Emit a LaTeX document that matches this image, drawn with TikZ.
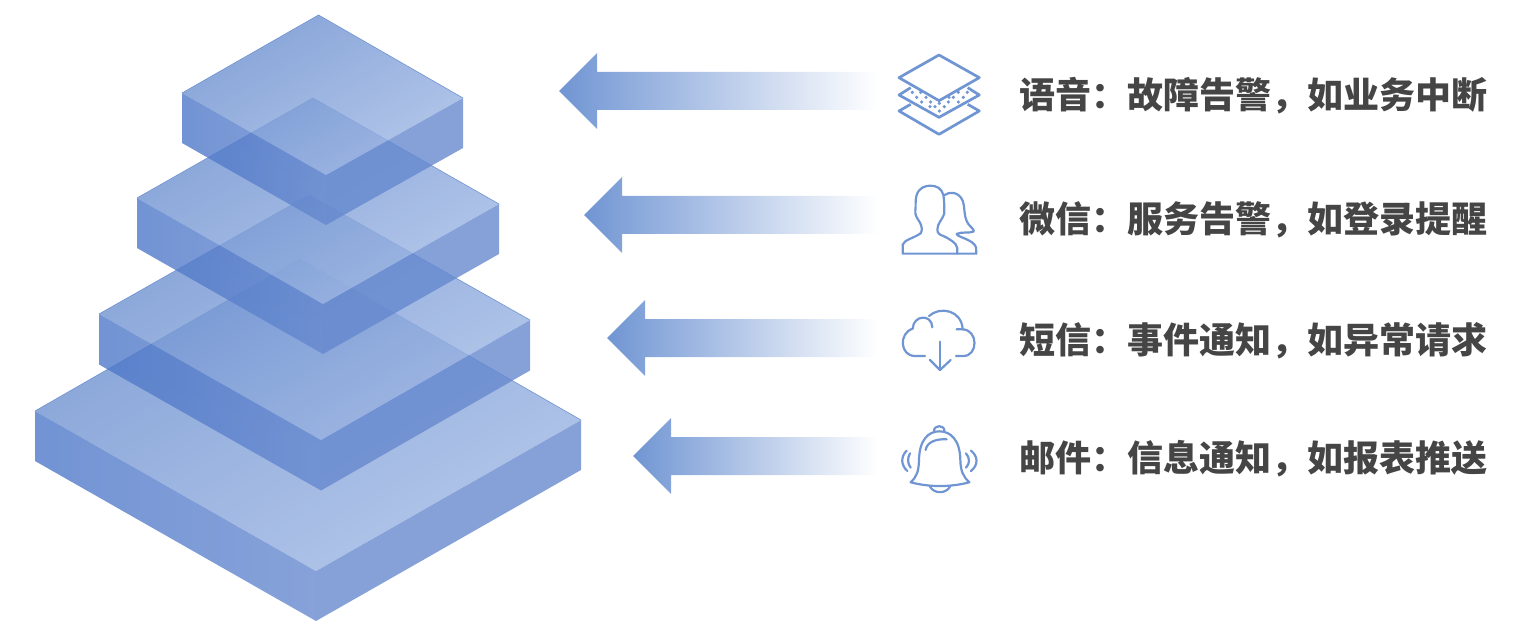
\documentclass[tikz,border=0pt]{standalone}
\usepackage{fontspec}
\newfontfamily\cjk{Noto Sans CJK SC}
\definecolor{ink}{HTML}{454545}
\definecolor{icon}{HTML}{7095D3}
\definecolor{edgeblue}{RGB}{112,146,210}
\definecolor{topA}{RGB}{104,141,206}
\definecolor{topB}{RGB}{160,184,228}
\definecolor{leftA}{RGB}{76,118,200}
\definecolor{leftB}{RGB}{102,137,207}
\definecolor{rightC}{RGB}{101,136,206}
\tikzset{
  x=1pt,y=-1pt,
  topface/.style={top color=topA,bottom color=topB,shading angle=30,fill opacity=.8,draw=none},
  leftface/.style={left color=leftA,right color=leftB,fill opacity=.79,draw=none},
  rightface/.style={fill=rightC,fill opacity=.79},
  edge/.style={draw=edgeblue,line width=.6pt},
  arrowshape/.style={left color=icon,right color=white,draw=none},
  label/.style={anchor=west,inner sep=0,text=ink,font=\fontsize{36}{40}\selectfont\cjk\bfseries},
  iconline/.style={draw=icon,line width=2.2pt,line cap=round,line join=round},
  layerline/.style={iconline,line width=2.7pt,line cap=butt},
}
\newcommand{\slabshape}[9]{%
  % left x,y ; top x,y ; right x,y ; front x,y ; height
  \shade[leftface] (#1,#2) -- (#7,#8) -- (#7,#8+#9) -- (#1,#2+#9) -- cycle;
  \fill[rightface] (#5,#6) -- (#7,#8) -- (#7,#8+#9) -- (#5,#6+#9) -- cycle;
  \shade[topface] (#1,#2) -- (#3,#4) -- (#5,#6) -- (#7,#8) -- cycle;
  \draw[edge] (#1,#2) -- (#3,#4) -- (#5,#6);
}
\begin{document}
\begin{tikzpicture}
\useasboundingbox (0,0) rectangle (1530,628);
\slabshape{35}{411}{300}{259}{581}{420}{316}{571}{50}
\slabshape{99}{314}{309}{195}{530}{320}{321}{440}{50.5}
\slabshape{137}{198}{313}{98}{499}{204}{323}{304}{50}
\slabshape{182}{93}{318.5}{15}{463}{98}{326}{175}{50}

\shade[arrowshape] (559,91) -- (597,53) -- (597,72) -- (878,72) -- (878,110) -- (597,110) -- (597,129) -- cycle;
\shade[arrowshape] (584,215) -- (622,177) -- (622,196) -- (878,196) -- (878,234) -- (622,234) -- (622,253) -- cycle;
\shade[arrowshape] (607,338) -- (645,300) -- (645,319) -- (878,319) -- (878,357) -- (645,357) -- (645,376) -- cycle;
\shade[arrowshape] (633,456) -- (671,418) -- (671,437) -- (878,437) -- (878,475) -- (671,475) -- (671,494) -- cycle;

\node[label] (voice) at (1019,96) {语音：故障告警，如业务中断};
\node[label] (wechat) at (1019,220) {微信：服务告警，如登录提醒};
\node[label] (sms) at (1019,341) {短信：事件通知，如异常请求};
\node[label] (mail) at (1019,459) {邮件：信息通知，如报表推送};

% layers icon
\begin{scope}[shift={(880,40)},x=.3333pt,y=-.3333pt]
  \draw[layerline] (177,45) -- (298,113) -- (177,182) -- (57,113) -- cycle;
  \draw[layerline] (92,143) -- (57,165) -- (177,232) -- (298,165) -- (263,143);
  \draw[layerline] (92,193) -- (57,213) -- (177,283) -- (298,213) -- (263,193);
  \foreach \dx/\dy in {97/157,122/157,110/172,138/172,125/186,152/186,150/200,165/200,178/213,178/190,193/200,205/186,220/172,235/157,250/172,262/157,235/186,207/172}
    \fill[icon] (\dx,\dy) circle (1.8pt);
\end{scope}
% people icon
\begin{scope}[shift={(880,40)},x=.3333pt,y=-.3333pt]
  \draw[iconline] (68,641) -- (68,614) .. controls (72,600) and (100,595) .. (122,580)
    .. controls (128,570) and (125,558) .. (120,548)
    .. controls (112,535) and (104,525) .. (106,512)
    .. controls (108,500) and (105,480) .. (110,465)
    .. controls (118,442) and (135,438) .. (150,437)
    .. controls (170,437) and (185,445) .. (190,465)
    .. controls (194,485) and (192,505) .. (193,520)
    .. controls (190,535) and (172,550) .. (172,568)
    .. controls (172,580) and (178,584) .. (190,588)
    .. controls (205,595) and (232,610) .. (232,625)
    -- (232,641) -- cycle;
  \draw[iconline] (192,466) .. controls (205,456) and (235,452) .. (248,482)
    .. controls (256,505) and (250,530) .. (265,552)
    .. controls (275,565) and (285,570) .. (280,575)
    .. controls (270,580) and (240,575) .. (230,582)
    .. controls (232,592) and (280,598) .. (288,622)
    -- (289,641) -- (232,641);
\end{scope}
% cloud icon
\begin{scope}[shift={(880,290)},x=.3333pt,y=-.3333pt]
  \draw[iconline] (135,198) -- (105,198) .. controls (60,198) and (55,130) .. (98,116)
    .. controls (100,75) and (155,70) .. (157,112);
  \draw[iconline] (147,78) .. controls (180,48) and (245,60) .. (248,118)
    -- (230,118);
  \draw[iconline] (248,118) .. controls (295,120) and (295,198) .. (250,198) -- (228,198);
  \draw[iconline] (180,155) -- (180,240);
  \draw[iconline] (150,210) -- (180,240) -- (212,210);
\end{scope}
% bell icon
\begin{scope}[shift={(880,290)},x=.3333pt,y=-.3333pt]
  \draw[iconline] (162,425) .. controls (160,403) and (196,403) .. (193,425);
  \draw[iconline] (92,577) .. controls (110,560) and (116,545) .. (117,510)
    .. controls (118,450) and (145,424) .. (178,424)
    .. controls (212,424) and (240,450) .. (241,510)
    .. controls (242,545) and (250,560) .. (268,577)
    .. controls (210,592) and (150,592) .. (92,577) -- cycle;
  \draw[iconline] (137,480) .. controls (140,458) and (165,446) .. (200,448);
  \draw[iconline] (150,590) .. controls (162,612) and (198,612) .. (210,590);
  \draw[iconline] (90,490) .. controls (82,505) and (82,520) .. (92,533);
  \draw[iconline] (80,482) .. controls (62,500) and (62,525) .. (82,543);
  \draw[iconline] (258,490) .. controls (270,505) and (270,520) .. (258,533);
  \draw[iconline] (273,482) .. controls (295,500) and (295,525) .. (273,543);
\end{scope}
\end{tikzpicture}
\end{document}
